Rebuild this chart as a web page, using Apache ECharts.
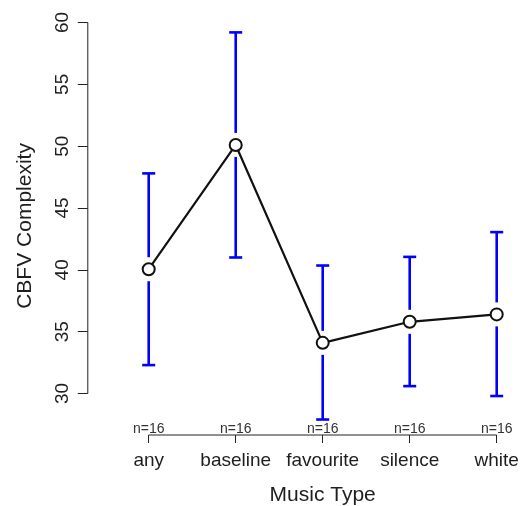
<!DOCTYPE html>
<html>
<head>
<meta charset="utf-8">
<script src="https://cdn.jsdelivr.net/npm/echarts@6/dist/echarts.min.js"></script>
<style>
  html, body { margin: 0; padding: 0; background: #ffffff; }
  #chart { width: 525px; height: 506px; }
</style>
</head>
<body>
<div id="chart"></div>
<script>
// Mean CBFV complexity by music type with 95% confidence intervals
const categories = ['any', 'baseline', 'favourite', 'silence', 'white'];
const means = [40.05, 50.1, 34.1, 35.8, 36.4];
const lowerCI = [32.3, 41.0, 27.9, 30.6, 29.8];
const upperCI = [47.8, 59.2, 40.35, 41.05, 43.05];
const counts = [16, 16, 16, 16, 16];
const yTicks = [30, 35, 40, 45, 50, 55, 60];

// Plot range padded 4% beyond the data, R style
const xPos = categories.map((c, i) => i + 1);
const xMin = 0.5 - 0.04 * categories.length;
const xMax = categories.length + 0.5 + 0.04 * categories.length;
const dataLo = Math.min(...lowerCI), dataHi = Math.max(...upperCI);
const yMin = dataLo - 0.04 * (dataHi - dataLo);
const yMax = dataHi + 0.04 * (dataHi - dataLo);

const FONT = 'Liberation Sans, Arial, sans-serif';
const TEXT = '#1e1e1e';

const chart = echarts.init(document.getElementById('chart'), null, { renderer: 'canvas' });

const ciData = xPos.map((x, i) => [x, means[i], lowerCI[i], upperCI[i]]);
const meanData = xPos.map((x, i) => [x, means[i]]);
const nData = xPos.map((x, i) => [x, yMin, counts[i]]);

chart.setOption({
  animation: false,
  backgroundColor: '#ffffff',
  grid: {
    left: 87.8, top: 16.9, width: 469.8, height: 418.1,
    containLabel: false, outerBoundsMode: 'none'
  },
  xAxis: {
    type: 'value', min: xMin, max: xMax,
    axisLine: { show: false },
    splitLine: { show: false },
    axisTick: { show: true, customValues: xPos, length: 8, lineStyle: { color: '#222', width: 1 } },
    axisLabel: {
      customValues: xPos, margin: 16,
      formatter: v => categories[Math.round(v) - 1] || '',
      fontFamily: FONT, fontSize: 19, color: TEXT
    },
    name: 'Music Type', nameLocation: 'middle', nameGap: 50,
    nameTextStyle: { fontFamily: FONT, fontSize: 21, color: TEXT }
  },
  yAxis: {
    type: 'value', min: yMin, max: yMax,
    axisLine: { show: false },
    splitLine: { show: false },
    axisTick: { show: true, customValues: yTicks, length: 10, lineStyle: { color: '#222', width: 1 } },
    axisLabel: {
      customValues: yTicks, rotate: 90, margin: 16,
      fontFamily: FONT, fontSize: 19, color: TEXT
    },
    name: 'CBFV Complexity', nameLocation: 'middle', nameRotate: 90, nameGap: 52,
    nameTextStyle: { fontFamily: FONT, fontSize: 21, color: TEXT }
  },
  series: [
    {
      // axis lines spanning only the tick range
      type: 'custom', silent: true, clip: false, z: 1,
      data: [[0]],
      renderItem: (params, api) => {
        const yb0 = api.coord([xMin, yTicks[0]]);
        const yb1 = api.coord([xMin, yTicks[yTicks.length - 1]]);
        const xb0 = api.coord([xPos[0], yMin]);
        const xb1 = api.coord([xPos[xPos.length - 1], yMin]);
        const style = { stroke: '#222', lineWidth: 1 };
        return {
          type: 'group', children: [
            { type: 'line', shape: { x1: yb0[0], y1: yb0[1], x2: yb1[0], y2: yb1[1] }, style },
            { type: 'line', shape: { x1: xb0[0], y1: xb0[1], x2: xb1[0], y2: xb1[1] }, style }
          ]
        };
      }
    },
    {
      // confidence interval bars, with a gap around each mean marker
      type: 'custom', silent: true, clip: false, z: 2,
      data: ciData,
      encode: { x: 0, y: [1, 2, 3] },
      renderItem: (params, api) => {
        const x = api.value(0);
        const m = api.coord([x, api.value(1)]);
        const lo = api.coord([x, api.value(2)]);
        const hi = api.coord([x, api.value(3)]);
        const gap = 12, cap = 6.5;
        const style = { stroke: '#0000ff', lineWidth: 2.6, lineCap: 'butt' };
        return {
          type: 'group', children: [
            { type: 'line', shape: { x1: m[0], y1: m[1] - gap, x2: hi[0], y2: hi[1] }, style },
            { type: 'line', shape: { x1: m[0], y1: m[1] + gap, x2: lo[0], y2: lo[1] }, style },
            { type: 'line', shape: { x1: hi[0] - cap, y1: hi[1], x2: hi[0] + cap, y2: hi[1] }, style },
            { type: 'line', shape: { x1: lo[0] - cap, y1: lo[1], x2: lo[0] + cap, y2: lo[1] }, style }
          ]
        };
      }
    },
    {
      type: 'line', z: 3, silent: true,
      data: meanData,
      symbol: 'emptyCircle', symbolSize: 12,
      lineStyle: { color: '#111', width: 2.2 },
      itemStyle: { color: '#111', borderColor: '#111', borderWidth: 2 }
    },
    {
      // group sizes printed just above the x axis
      type: 'custom', silent: true, clip: false, z: 4,
      data: nData,
      renderItem: (params, api) => {
        const p = api.coord([api.value(0), api.value(1)]);
        return {
          type: 'text',
          style: {
            x: p[0], y: p[1] + 1, text: 'n=' + api.value(2),
            align: 'center', verticalAlign: 'bottom',
            font: '14px ' + FONT, fill: '#333'
          }
        };
      }
    }
  ]
});
</script>
</body>
</html>
